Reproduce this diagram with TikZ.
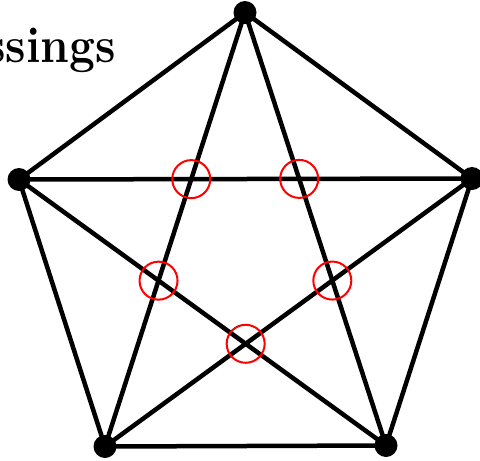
\documentclass[tikz,border=0pt]{standalone}
\begin{document}
\begin{tikzpicture}[x=1pt,y=-1pt,
  vert/.style={circle,fill=black,inner sep=0pt,minimum size=23pt},
  edge/.style={line width=4.5pt},
  cross/.style={red,line width=2pt}]
\useasboundingbox (0,0) rectangle (480,461);
\begin{scope}
\clip (0,0) rectangle (480,461);
\node[anchor=base east,inner sep=0pt,font=\fontsize{46}{50}\selectfont\bfseries] (title) at (116,62) {\scalebox{1}[1.1]{ssings}};
\end{scope}
\coordinate (T) at (245,12.5);
\coordinate (L) at (19,179.5);
\coordinate (R) at (472,178.5);
\coordinate (BL) at (105,446.5);
\coordinate (BR) at (386,445.5);
\draw[edge] (T) -- (L) -- (BL) -- (BR) -- (R) -- cycle;
\draw[edge] (T) -- (BL);
\draw[edge] (T) -- (BR);
\draw[edge] (L) -- (R);
\draw[edge] (L) -- (BR);
\draw[edge] (R) -- (BL);
\foreach \v in {T,L,R,BL,BR} \node[vert] (n\v) at (\v) {};
\coordinate (c1) at (intersection of L--R and T--BL);
\coordinate (c2) at (intersection of L--R and T--BR);
\coordinate (c3) at (intersection of L--BR and T--BL);
\coordinate (c4) at (intersection of R--BL and T--BR);
\coordinate (c5) at (intersection of L--BR and R--BL);
\foreach \c in {c1,c2,c3,c4,c5} \draw[cross] (\c) circle[radius=19];
\end{tikzpicture}
\end{document}
